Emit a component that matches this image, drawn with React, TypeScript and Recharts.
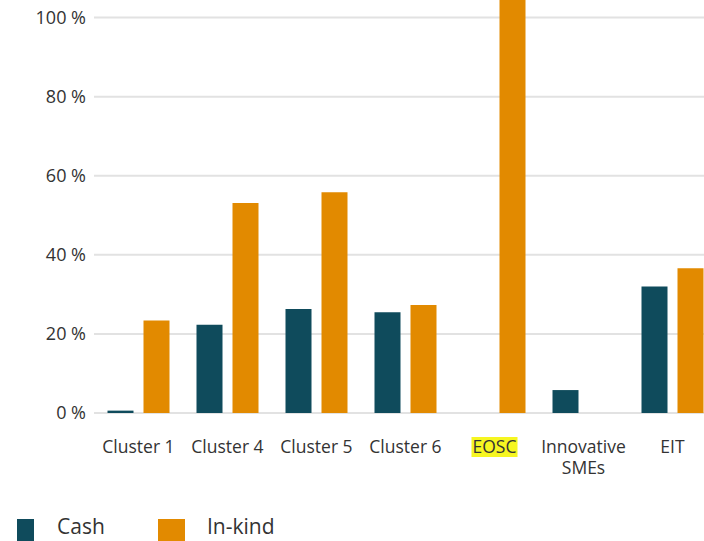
import { BarChart, Bar, XAxis, YAxis, CartesianGrid } from 'recharts'

const categories = ['Cluster 1', 'Cluster 4', 'Cluster 5', 'Cluster 6', 'EOSC', 'Innovative SMEs', 'EIT']
const cash = [0.6, 22.3, 26.3, 25.5, 0, 5.8, 32.0]
const inKind = [23.4, 53.1, 55.8, 27.3, 110, 0, 36.6]
const yTicks = [0, 20, 40, 60, 80, 100]
const highlighted = ['EOSC']

const CASH_COLOR = '#0f4b5c'
const INKIND_COLOR = '#e28a00'
const TEXT_COLOR = '#333333'
const FONT = '"Open Sans", "Noto Sans", sans-serif'

const chartData = categories.map((name, i) => ({
  name,
  cash: cash[i],
  inKind: inKind[i],
}))

const series = [
  { key: 'cash', name: 'Cash', color: CASH_COLOR },
  { key: 'inKind', name: 'In-kind', color: INKIND_COLOR },
]

function CategoryTick({ x, y, payload }: any) {
  const label: string = payload.value
  // long labels wrap onto two lines like the original
  const lines = label.length > 10 ? label.split(' ') : [label]
  const base = y + 32
  const isHi = highlighted.includes(label)
  return (
    <g>
      {isHi && <rect x={x - 23} y={base - 16} width={46} height={20} fill="#f6f621" />}
      <text
        x={x}
        y={base}
        textAnchor="middle"
        fontSize={17.5}
        fontFamily={FONT}
        fill={TEXT_COLOR}
      >
        {lines.map((line, i) => (
          <tspan key={i} x={x} dy={i === 0 ? 0 : 21}>
            {line}
          </tspan>
        ))}
      </text>
    </g>
  )
}

export default function App() {
  return (
    <div
      style={{
        position: 'fixed',
        left: 0,
        top: 0,
        width: 704,
        height: 541,
        overflow: 'hidden',
        background: '#fff',
      }}
    >
      <div style={{ position: 'absolute', left: 0, top: -22 }}>
        <BarChart
          width={720}
          height={563}
          data={chartData}
          margin={{ top: 0, right: 3, bottom: 88, left: 0 }}
          barGap={10}
          barCategoryGap={13.5}
        >
          <CartesianGrid vertical={false} stroke="#e2e2e2" strokeWidth={2} />
          <XAxis
            dataKey="name"
            height={40}
            tickLine={false}
            axisLine={false}
            interval={0}
            tick={<CategoryTick />}
          />
          <YAxis
            width={94}
            domain={[0, 110]}
            ticks={yTicks}
            tickLine={false}
            axisLine={false}
            tickFormatter={(v: number) => `${v} %`}
            tick={{ fill: TEXT_COLOR, fontSize: 18, fontFamily: FONT }}
          />
          {series.map(s => (
            <Bar key={s.key} dataKey={s.key} name={s.name} fill={s.color} isAnimationActive={false} />
          ))}
        </BarChart>
      </div>
      {series.map((s, i) => (
        <div
          key={s.key}
          style={{
            position: 'absolute',
            left: i === 0 ? 17 : 158,
            top: 519,
            display: 'flex',
            alignItems: 'flex-start',
          }}
        >
          <div style={{ width: i === 0 ? 17 : 27, height: 22, background: s.color }} />
          <span
            style={{
              marginLeft: i === 0 ? 23 : 22,
              marginTop: -3,
              fontFamily: FONT,
              fontSize: 21,
              color: TEXT_COLOR,
              lineHeight: '21px',
            }}
          >
            {s.name}
          </span>
        </div>
      ))}
    </div>
  )
}
